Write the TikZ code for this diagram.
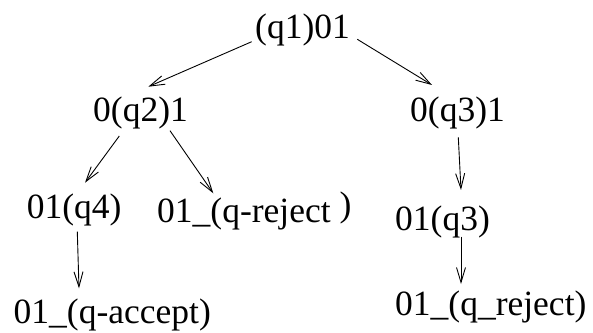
\documentclass[tikz,border=0pt]{standalone}
\usepackage{fontspec}
\setmainfont{Liberation Serif}
\usetikzlibrary{arrows.meta,calc}
\begin{document}
\begin{tikzpicture}[x=1pt,y=1pt,
  lab/.style={anchor=base west,inner sep=0pt,font=\fontsize{35.5}{40}\selectfont},
  arr/.style={-{Straight Barb[length=15pt,width=9pt]},line width=0.9pt}]
\useasboundingbox (0,0) rectangle (593,332);
\node[lab] (q1)   at (255,293.5) {(q1)01};
\node[lab] (q2)   at (93,210)    {0(q2)1};
\node[lab] (q3)   at (410,210)   {0(q3)1};
\node[lab] (q4)   at (26.7,114)  {01(q4)};
\node[lab] (rej1) at (157,110)   {01\_(q-reject \raisebox{6pt}{)}};
\node[lab] (q3b)  at (395,102)   {01(q3)};
\node[lab] (acc)  at (13.5,9)    {01\_(q-accept)};
\node[lab] (rej2) at (395,17)    {01\_(q\_reject)};
\draw[arr] ($(q1.base west)+(-3.3,-3.2)$) -- ($(q2.base west)+(55.3,35.3)$);
\draw[arr] ($(q1.base west)+(102.3,-0.8)$) -- ($(q3.base west)+(22,37)$);
\draw[arr] ($(q2.base west)+(26.3,-14)$) -- ($(q4.base west)+(58.3,35.3)$);
\draw[arr] ($(q2.base west)+(77,-8.7)$) -- ($(rej1.base west)+(56.3,28.7)$);
\draw[arr] ($(q3.base west)+(48.3,-15.3)$) -- ($(q3b.base west)+(66,40)$);
\draw[arr] ($(q4.base west)+(50.6,-13.7)$) -- ($(acc.base west)+(65.5,34.7)$);
\draw[arr] ($(q3b.base west)+(66,-6.7)$) -- ($(rej2.base west)+(66,31)$);
\end{tikzpicture}
\end{document}
